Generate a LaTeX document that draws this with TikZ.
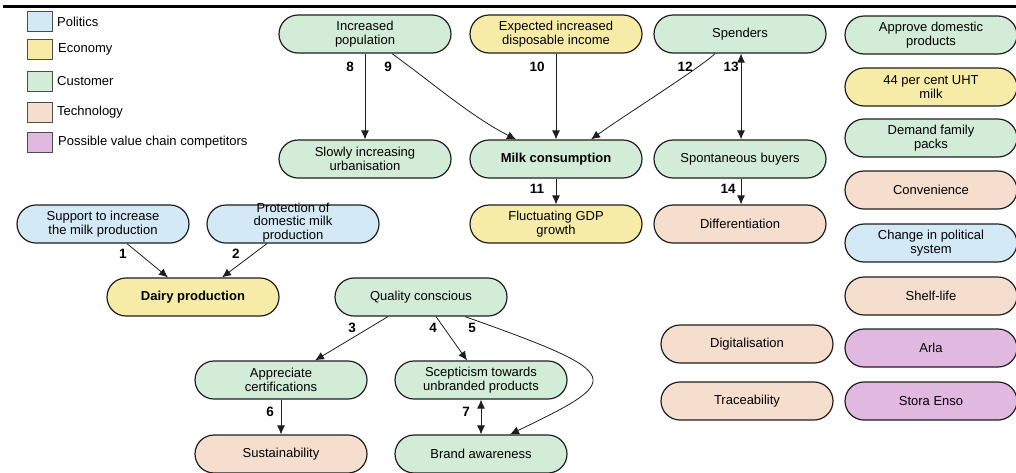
\documentclass[tikz,border=0pt]{standalone}
\usepackage{fontspec}
\setmainfont{Liberation Sans}
\usetikzlibrary{arrows.meta}

\definecolor{polC}{HTML}{D3E9F6}
\definecolor{ecoC}{HTML}{F7EBA8}
\definecolor{cusC}{HTML}{D2ECD8}
\definecolor{tecC}{HTML}{F6DECF}
\definecolor{comC}{HTML}{E0B8E0}
\definecolor{edgeC}{HTML}{1E1E1E}

\tikzset{
  box/.style={draw=edgeC, line width=1.2pt, rounded corners=19pt,
    minimum width=172pt, minimum height=38pt, inner sep=0pt,
    align=center, font=\fontsize{13}{14}\selectfont},
  pol/.style={box, fill=polC},
  eco/.style={box, fill=ecoC},
  cus/.style={box, fill=cusC},
  tec/.style={box, fill=tecC},
  com/.style={box, fill=comC},
  num/.style={inner sep=0pt, font=\fontsize{13.5}{14}\selectfont\bfseries},
  arr/.style={-{Latex[length=9pt,width=8pt]}, line width=0.8pt, draw=edgeC},
  darr/.style={{Latex[length=9pt,width=8pt]}-{Latex[length=9pt,width=8pt]}, line width=0.8pt, draw=edgeC},
  keybox/.style={draw=black!70, line width=0.8pt, minimum width=25pt,
    minimum height=20pt, inner sep=0pt},
  keytext/.style={anchor=west, inner sep=0pt, font=\fontsize{13}{14}\selectfont},
}

\begin{document}
\begin{tikzpicture}[x=1pt, y=-1pt]
\useasboundingbox (0,0) rectangle (1016,472);

% heading rule
\draw[line width=3pt] (3,6) -- (1016,6);

% legend
\node[keybox, fill=polC] (kpol) at (40,21.5) {};
\node[keybox, fill=ecoC] (keco) at (40,49.5) {};
\node[keybox, fill=cusC] (kcus) at (40,81.5) {};
\node[keybox, fill=tecC] (ktec) at (40,112.5) {};
\node[keybox, fill=comC] (kcom) at (40,142.5) {};
\node[keytext] (tpol) at (57,21.5) {Politics};
\node[keytext] (teco) at (58,49.5) {Economy};
\node[keytext] (tcus) at (57,81.5) {Customer};
\node[keytext] (ttec) at (57,112.5) {Technology};
\node[keytext] (tcom) at (58,142.5) {Possible value chain competitors};

% factor nodes
\node[cus] (pop)   at (365,34)  {Increased\\population};
\node[eco] (inc)   at (556,34)  {Expected increased\\disposable income};
\node[cus] (spend) at (740,34)  {Spenders};
\node[cus] (urb)   at (365,159) {Slowly increasing\\urbanisation};
\node[cus] (milk)  at (556,159) {\bfseries Milk consumption};
\node[cus] (spont) at (740,159) {Spontaneous buyers};
\node[eco] (gdp)   at (556,224) {Fluctuating GDP\\growth};
\node[tec] (diff)  at (740,224) {Differentiation};
\node[pol] (supp)  at (103,224) {Support to increase\\the milk production};
\node[pol] (prot)  at (293,224)
  {\raisebox{-3pt}{\smash{\parbox[c]{160pt}{\centering\fontsize{13}{13.5}\selectfont
   Protection of\\domestic milk\\production}}}};
\node[eco] (dairy) at (193,297) {\bfseries Dairy production};
\node[cus] (qual)  at (421,297) {Quality conscious};
\node[cus] (appc)  at (281,380) {Appreciate\\certifications};
\node[cus] (scep)  at (481,380) {Scepticism towards\\unbranded products};
\node[tec] (sust)  at (281,454) {Sustainability};
\node[cus] (brand) at (481,454) {Brand awareness};
\node[tec] (digi)  at (747,344) {Digitalisation};
\node[tec] (trace) at (747,401) {Traceability};

% right-hand column
\node[cus] (appr)  at (931,35)  {Approve domestic\\products};
\node[eco] (uht)   at (931,87)  {44 per cent UHT\\milk};
\node[cus] (fam)   at (931,138) {Demand family\\packs};
\node[tec] (conv)  at (931,190) {Convenience};
\node[pol] (chg)   at (931,243) {Change in political\\system};
\node[tec] (shelf) at (931,296) {Shelf-life};
\node[com] (arla)  at (931,348) {Arla};
\node[com] (stora) at (931,401) {Stora Enso};

% relations
\draw[arr] ([xshift=24pt]supp.south) -- ([xshift=-25pt]dairy.north);
\draw[arr] ([xshift=-26pt]prot.south) -- ([xshift=29pt]dairy.north);
\draw[arr] ([xshift=-33pt]qual.south) -- ([xshift=34pt]appc.north);
\draw[arr] ([xshift=15pt]qual.south) -- ([xshift=-14pt]scep.north);
\draw[arr] ([xshift=44pt]qual.south) .. controls (630,375) and (622,380) .. ([xshift=29pt]brand.north);
\draw[arr] (appc.south) -- (sust.north);
\draw[darr] (scep.south) -- (brand.north);
\draw[arr] (pop.south) -- (urb.north);
\draw[arr] ([xshift=27pt]pop.south) .. controls +(40,29) and +(-45,-23) .. ([xshift=-40pt]milk.north);
\draw[arr] (inc.south) -- (milk.north);
\draw[arr] (milk.south) -- (gdp.north);
\draw[arr] ([xshift=-25pt]spend.south) .. controls (700,68) and (625,115) .. ([xshift=35pt]milk.north);
\draw[darr] ([xshift=1pt]spend.south) -- ([xshift=1pt]spont.north);
\draw[arr] ([xshift=1pt]spont.south) -- ([xshift=1pt]diff.north);

% relation numbers
\node[num] (n1)  at (123,254) {1};
\node[num] (n2)  at (236,254) {2};
\node[num] (n3)  at (352,328) {3};
\node[num] (n4)  at (433,328) {4};
\node[num] (n5)  at (472,328) {5};
\node[num] (n6)  at (270,412) {6};
\node[num] (n7)  at (466,412) {7};
\node[num] (n8)  at (350,67)  {8};
\node[num] (n9)  at (388,67)  {9};
\node[num] (n10) at (537,67)  {10};
\node[num] (n11) at (537,189) {11};
\node[num] (n12) at (685,67)  {12};
\node[num] (n13) at (731,67)  {13};
\node[num] (n14) at (728,189) {14};
\end{tikzpicture}
\end{document}
